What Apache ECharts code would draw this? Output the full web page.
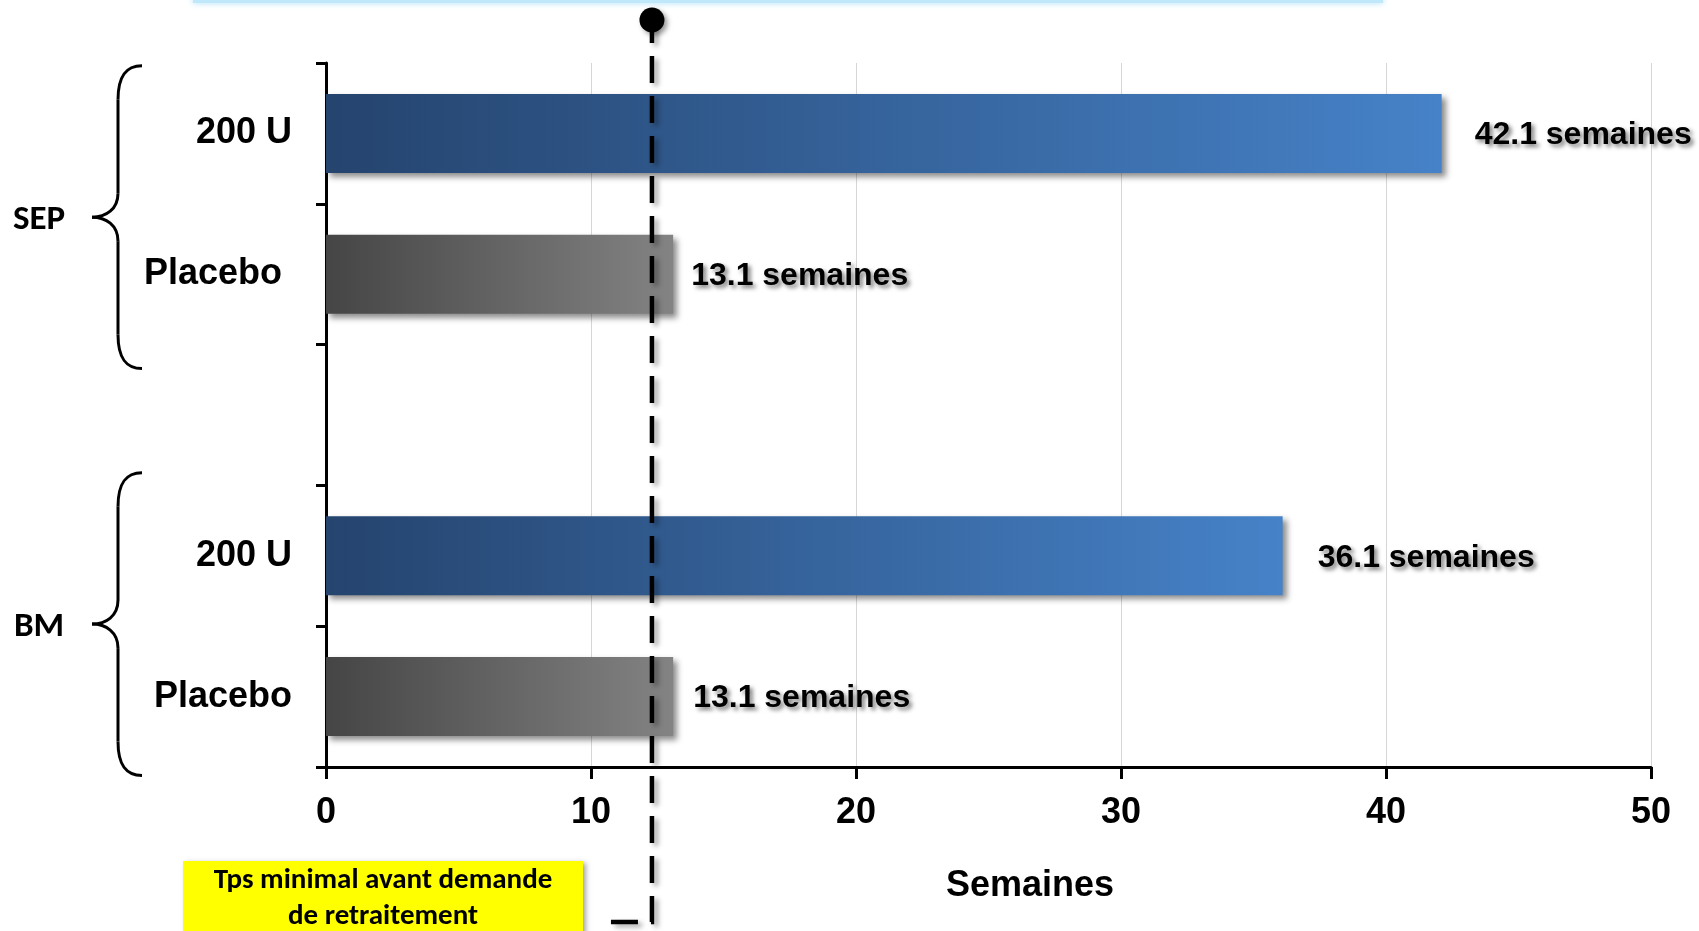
<!DOCTYPE html>
<html>
<head>
<meta charset="utf-8">
<script src="https://cdn.jsdelivr.net/npm/echarts@6/dist/echarts.min.js"></script>
<style>
  html, body { margin: 0; padding: 0; background: #ffffff; }
  #chart { width: 1699px; height: 931px; }
</style>
</head>
<body>
<div id="chart"></div>
<script>
// Rows from top to bottom; the empty row separates the two groups
const categories = ['200 U', 'Placebo', '', '200 U', 'Placebo'];
const arms = ['dose', 'placebo', null, 'dose', 'placebo'];
const weeks = [42.1, 13.1, null, 36.1, 13.1];
const valueLabels = ['42.1 semaines', '13.1 semaines', '', '36.1 semaines', '13.1 semaines'];
const groupNames = ['SEP', 'BM'];
const groupRows = [[0, 1], [3, 4]];
const xTicks = [0, 10, 20, 30, 40, 50];
const retreatWeeks = 12.3;
const axisTitle = 'Semaines';
const noteLines = ['Tps minimal avant demande', 'de retraitement'];

const ARIAL = '"Liberation Sans", Arial, sans-serif';
const CALIBRI = 'Carlito, Lato, "Noto Sans", sans-serif';

const armGradient = {
  dose: ['#25446e', '#4682c8'],
  placebo: ['#454545', '#838383']
};
// gap between bar end and its value label, per row
const labelGaps = [33, 18, 0, 35, 20];

const chart = echarts.init(document.getElementById('chart'), null, { renderer: 'canvas' });

const barData = weeks.map((v, i) => {
  if (v === null) return '-';
  const g = armGradient[arms[i]];
  return {
    value: v,
    itemStyle: {
      color: new echarts.graphic.LinearGradient(0, 0, 1, 0, [
        { offset: 0, color: g[0] },
        { offset: 1, color: g[1] }
      ]),
      shadowColor: 'rgba(0,0,0,0.45)',
      shadowBlur: 6,
      shadowOffsetX: 4,
      shadowOffsetY: 4
    },
    label: {
      show: true,
      position: 'right',
      distance: labelGaps[i],
      formatter: valueLabels[i]
    }
  };
});

const catLabelStyle = { fontFamily: ARIAL, fontSize: 36, fontWeight: 'bold', color: '#000' };

chart.setOption({
  animation: false,
  backgroundColor: '#ffffff',
  grid: { left: 326, right: 48, top: 63, bottom: 164 },
  xAxis: {
    type: 'value',
    min: xTicks[0],
    max: xTicks[xTicks.length - 1],
    interval: xTicks[1] - xTicks[0],
    name: axisTitle,
    nameLocation: 'middle',
    nameGap: 101,
    nameTextStyle: {
      fontFamily: ARIAL, fontSize: 36, fontWeight: 'bold', color: '#000',
      padding: [0, 0, 0, 83]
    },
    axisLine: { show: true, lineStyle: { color: '#000', width: 3 } },
    axisTick: { show: true, length: 12, lineStyle: { color: '#000', width: 3 } },
    axisLabel: {
      fontFamily: ARIAL, fontSize: 36, fontWeight: 'bold', color: '#000', margin: 28
    },
    splitLine: { show: true, lineStyle: { color: '#d6d6d6', width: 1 } }
  },
  yAxis: {
    type: 'category',
    inverse: true,
    data: categories,
    axisLine: { show: true, lineStyle: { color: '#000', width: 3 } },
    axisTick: { show: true, length: 10, lineStyle: { color: '#000', width: 3 } },
    axisLabel: Object.assign({}, catLabelStyle, {
      margin: 34,
      // the upper placebo label sits a little further from the axis
      formatter: (value, index) => index === 1 ? '{far|' + value + '}' : value,
      rich: { far: Object.assign({}, catLabelStyle, { padding: [0, 10, 0, 0] }) }
    }),
    splitLine: { show: false }
  },
  series: [{
    type: 'bar',
    barWidth: 79,
    data: barData,
    label: {
      fontFamily: ARIAL, fontSize: 32, fontWeight: 'bold', color: '#000',
      offset: [0, 2],
      textShadowColor: 'rgba(0,0,0,0.5)',
      textShadowBlur: 4,
      textShadowOffsetX: 3,
      textShadowOffsetY: 3
    }
  }]
});

// Annotations placed from the axes' own scales
const rowY = i => chart.convertToPixel({ yAxisIndex: 0 }, i);
const band = rowY(1) - rowY(0);
const x0 = chart.convertToPixel({ xAxisIndex: 0 }, 0);
const xRetreat = chart.convertToPixel({ xAxisIndex: 0 }, retreatWeeks);

// brace extent, in rows, relative to each group's first row
const braceExtent = [[-0.48, 1.67], [-0.59, 1.56]];

const braceStroke = { fill: null, stroke: '#000', lineWidth: 3 };

// curly brace built from bezier pieces and straight stems
function braceParts(xEnd, xStem, xTip, yT, yB) {
  const yM = (yT + yB) / 2;
  const curve = (x1, y1, cx1, cy1, cx2, cy2, x2, y2) => ({
    type: 'bezierCurve',
    shape: { x1, y1, cpx1: cx1, cpy1: cy1, cpx2: cx2, cpy2: cy2, x2, y2 },
    style: braceStroke, z: 10
  });
  const stem = (y1, y2) => ({
    type: 'line',
    shape: { x1: xStem, y1, x2: xStem, y2 },
    style: braceStroke, z: 10
  });
  return [
    curve(xEnd, yT, xEnd - 16, yT, xStem, yT + 10, xStem, yT + 34),
    stem(yT + 34, yM - 24),
    curve(xStem, yM - 24, xStem, yM - 8, xTip + 14, yM, xTip, yM),
    curve(xTip, yM, xTip + 14, yM, xStem, yM + 8, xStem, yM + 24),
    stem(yM + 24, yB - 34),
    curve(xStem, yB - 34, xStem, yB - 10, xEnd - 16, yB, xEnd, yB)
  ];
}

const graphics = [];

// thin cyan rule along the top edge
graphics.push({
  type: 'rect',
  shape: { x: 193, y: -3, width: 1190, height: 6 },
  style: { fill: '#bfe9fb', shadowColor: 'rgba(150,215,245,0.8)', shadowBlur: 6 },
  z: 1
});

groupNames.forEach((name, g) => {
  const first = groupRows[g][0];
  const yT = rowY(first) + braceExtent[g][0] * band;
  const yB = rowY(first) + braceExtent[g][1] * band;
  braceParts(x0 - 184, x0 - 208, x0 - 234, yT, yB).forEach(p => graphics.push(p));
  graphics.push({
    type: 'text',
    x: x0 - 287,
    y: (yT + yB) / 2 + 3,
    style: {
      text: name,
      fontFamily: CALIBRI, fontSize: 35, fontWeight: 'bold', fill: '#000',
      align: 'center', verticalAlign: 'middle'
    },
    z: 10
  });
});

// minimum retreatment time: dashed elbow connector with a dot on top
const dotY = 20;
const elbowY = 922;
graphics.push({
  type: 'polyline',
  shape: { points: [[xRetreat, dotY], [xRetreat, elbowY], [x0 + 275, elbowY]] },
  style: {
    fill: null, stroke: '#000', lineWidth: 4.5, lineDash: [27, 13], lineDashOffset: 4,
    shadowColor: 'rgba(0,0,0,0.35)', shadowBlur: 5, shadowOffsetX: 4, shadowOffsetY: 3
  },
  z: 20
});
graphics.push({
  type: 'circle',
  shape: { cx: xRetreat, cy: dotY, r: 12.5 },
  style: {
    fill: '#000',
    shadowColor: 'rgba(0,0,0,0.4)', shadowBlur: 5, shadowOffsetX: 3, shadowOffsetY: 3
  },
  z: 21
});

// yellow note box below the axis
const boxX = x0 - 143, boxY = 861, boxW = 400, boxH = 90;
graphics.push({
  type: 'rect',
  shape: { x: boxX, y: boxY, width: boxW, height: boxH },
  style: {
    fill: '#ffff00',
    shadowColor: 'rgba(0,0,0,0.35)', shadowBlur: 5, shadowOffsetX: 3, shadowOffsetY: 2
  },
  z: 15
});
noteLines.forEach((line, k) => {
  graphics.push({
    type: 'text',
    x: boxX + boxW / 2,
    y: boxY + 20 + k * 36,
    style: {
      text: line,
      fontFamily: CALIBRI, fontSize: 29, fontWeight: 'bold', fill: '#000',
      align: 'center', verticalAlign: 'middle'
    },
    z: 16
  });
});

chart.setOption({ graphic: graphics });
</script>
</body>
</html>
